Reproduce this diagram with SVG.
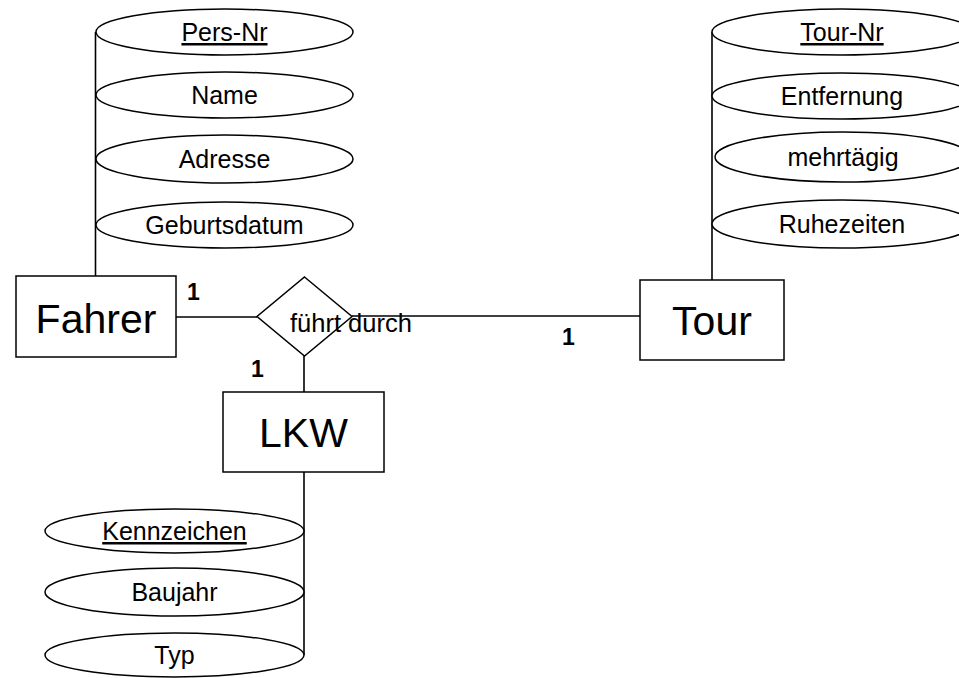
<svg xmlns="http://www.w3.org/2000/svg" width="959" height="678" viewBox="0 0 959 678">
<style>
text{font-family:"Liberation Sans",Arial,sans-serif;fill:#000}
.attr{font-size:25px;text-anchor:middle}
.ent{font-size:41px;text-anchor:middle}
.card{font-size:23px;font-weight:bold}
.key{text-decoration:underline}
ellipse,rect,polygon{fill:#fff;stroke:#000;stroke-width:1.5}
line{stroke:#000;stroke-width:1.6}
</style>
<rect width="959" height="678" fill="#fff" style="stroke:none"/>
<g id="connectors">
<line x1="95.5" y1="32" x2="95.5" y2="276"/>
<line x1="712" y1="32" x2="712" y2="280"/>
<line x1="304" y1="472" x2="304" y2="655"/>
<line x1="176" y1="317" x2="257" y2="317"/>
<line x1="352" y1="316" x2="640" y2="316"/>
<line x1="304" y1="356" x2="304" y2="392"/>
</g>
<g id="attr-pers-nr"><ellipse cx="224.5" cy="32" rx="128.5" ry="23"/><text class="attr key" x="224.5" y="41">Pers-Nr</text></g>
<g id="attr-name"><ellipse cx="224.5" cy="95" rx="128.5" ry="23"/><text class="attr" x="224.5" y="104">Name</text></g>
<g id="attr-adresse"><ellipse cx="224.5" cy="159" rx="128.5" ry="24"/><text class="attr" x="224.5" y="168">Adresse</text></g>
<g id="attr-geburtsdatum"><ellipse cx="224.5" cy="225" rx="128.5" ry="23"/><text class="attr" x="224.5" y="234">Geburtsdatum</text></g>
<g id="attr-tour-nr"><ellipse cx="842" cy="32" rx="130" ry="23"/><text class="attr key" x="842" y="41">Tour-Nr</text></g>
<g id="attr-entfernung"><ellipse cx="842" cy="96" rx="130" ry="23"/><text class="attr" x="842" y="105">Entfernung</text></g>
<g id="attr-mehrtaegig"><ellipse cx="843" cy="157" rx="128" ry="25"/><text class="attr" x="843" y="166">mehrtägig</text></g>
<g id="attr-ruhezeiten"><ellipse cx="842" cy="224" rx="130" ry="24"/><text class="attr" x="842" y="233">Ruhezeiten</text></g>
<g id="attr-kennzeichen"><ellipse cx="174.5" cy="531" rx="129.5" ry="22"/><text class="attr key" x="174.5" y="540">Kennzeichen</text></g>
<g id="attr-baujahr"><ellipse cx="174.5" cy="592" rx="129.5" ry="24"/><text class="attr" x="174.5" y="601">Baujahr</text></g>
<g id="attr-typ"><ellipse cx="174.5" cy="655" rx="129.5" ry="22"/><text class="attr" x="174.5" y="664">Typ</text></g>
<g id="fahrer"><rect x="16" y="276" width="160" height="81"/><text class="ent" x="96" y="333">Fahrer</text></g>
<g id="tour"><rect x="640" y="280" width="144" height="80"/><text class="ent" x="712" y="335">Tour</text></g>
<g id="lkw"><rect x="223" y="392" width="161" height="80"/><text class="ent" x="303.5" y="447">LKW</text></g>
<g id="fuehrt-durch"><polygon points="304.5,277 352,316.5 304.5,356 257,316.5"/><text x="290" y="332" style="font-size:25.5px">führt durch</text></g>
<g id="cardinalities">
<text class="card" x="187" y="300">1</text>
<text class="card" x="251" y="377">1</text>
<text class="card" x="562" y="345">1</text>
</g>
</svg>
